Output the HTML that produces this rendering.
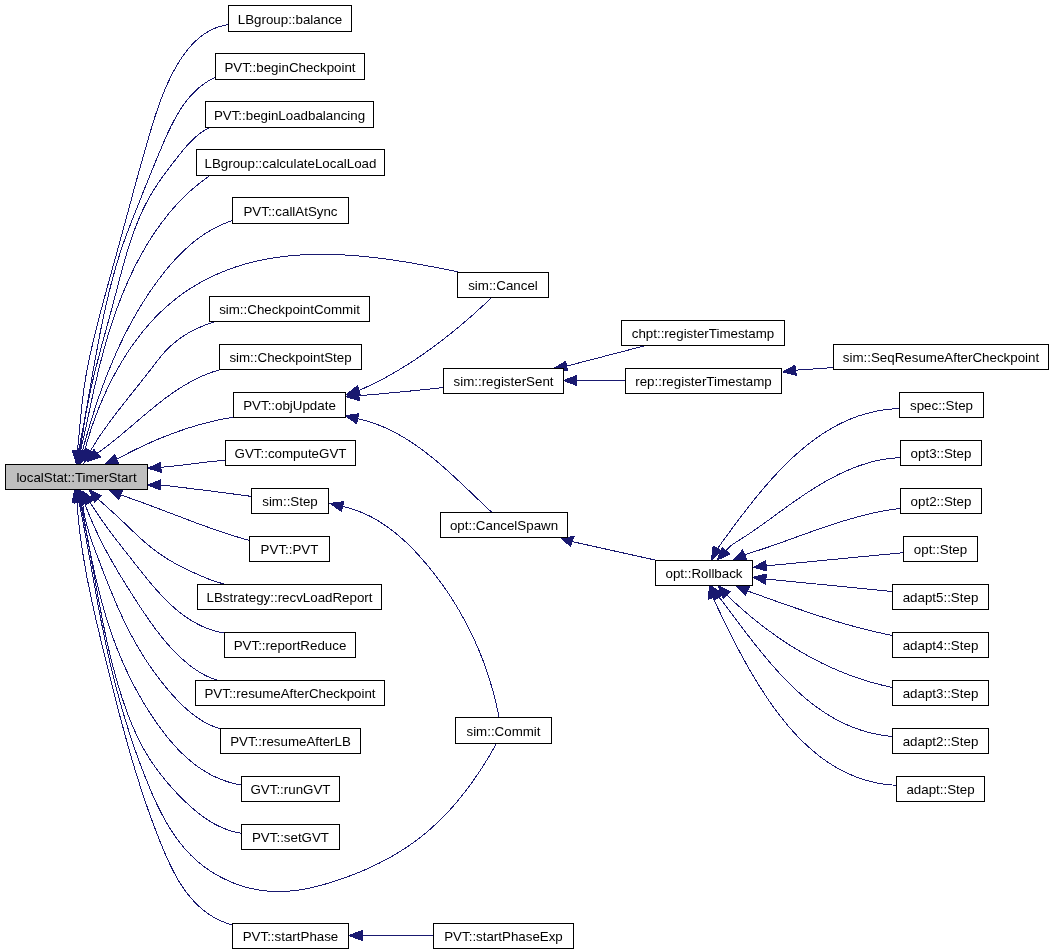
<!DOCTYPE html>
<html><head><meta charset="utf-8"><style>
html,body{margin:0;padding:0;background:#fff;}
svg{display:block;}
text{font-family:"Liberation Sans",sans-serif;font-size:13.333px;fill:#000;}
</style></head><body>
<svg width="1053" height="952" viewBox="0 0 1053 952">
<rect x="0" y="0" width="1053" height="952" fill="#fff"/>
<g fill="none" stroke="#191970" stroke-width="1" shape-rendering="crispEdges">
<path d="M228.5,24.5C226.9,24.9 222.1,25.7 219.1,26.7C216.1,27.6 213.3,28.8 210.6,30.2C207.9,31.6 205.4,33.2 202.9,34.9C200.5,36.7 198.2,38.6 196,40.7C193.8,42.7 191.7,44.9 189.7,47.2C187.7,49.5 185.8,51.9 184,54.4C182.2,56.9 180.5,59.4 178.9,62C177.3,64.6 175.8,67.3 174.3,70C172.8,72.6 171.4,75.3 170.1,78.1C168.8,80.8 167.5,83.5 166.3,86.3C165.1,89.1 163.9,91.9 162.8,94.7C161.7,97.5 160.6,100.4 159.6,103.2C158.6,106.1 157.6,109 156.6,111.8C155.6,114.7 154.7,117.6 153.8,120.5C152.9,123.4 152,126.3 151.1,129.2C150.2,132.1 149.4,135 148.5,137.9C147.7,140.9 146.8,143.8 146,146.7C145.1,149.6 144.3,152.5 143.5,155.4C142.6,158.4 141.8,161.3 141,164.2C140.2,167.1 139.4,170.1 138.5,173C137.7,175.9 136.9,178.8 136.1,181.8C135.3,184.7 134.5,187.6 133.7,190.5C132.9,193.5 132.2,196.4 131.4,199.3C130.6,202.3 129.8,205.2 129,208.1C128.2,211 127.4,214 126.6,216.9C125.8,219.8 125,222.8 124.2,225.7C123.4,228.6 122.6,231.5 121.8,234.5C121,237.4 120.2,240.3 119.4,243.2C118.6,246.2 117.8,249.1 117,252C116.2,254.9 115.4,257.9 114.6,260.8C113.7,263.7 112.9,266.7 112.1,269.6C111.3,272.5 110.5,275.4 109.7,278.4C108.9,281.3 108.1,284.2 107.3,287.1C106.5,290.1 105.7,293 104.9,295.9C104.1,298.9 103.3,301.8 102.5,304.7C101.7,307.7 101,310.6 100.2,313.5C99.4,316.5 98.7,319.4 97.9,322.3C97.2,325.3 96.4,328.2 95.7,331.2C95,334.1 94.2,337.1 93.5,340C92.8,343 92.1,345.9 91.5,348.9C90.8,351.8 90.1,354.8 89.5,357.7C88.9,360.7 88.2,363.7 87.7,366.6C87.1,369.6 86.5,372.6 86,375.6C85.5,378.6 85,381.6 84.6,384.6C84.1,387.6 83.7,390.6 83.3,393.6C82.9,396.6 82.6,399.6 82.2,402.6C81.9,405.7 81.6,408.7 81.2,411.7C80.9,414.7 80.6,417.8 80.3,420.8C80.1,423.8 79.8,426.8 79.5,429.9C79.2,432.9 78.9,435.9 78.6,438.9C78.3,442 77.9,446 77.6,448C77.4,450 77.4,450.5 77.3,451"/>
<path d="M215.5,77C214.1,77.8 209.9,79.9 207.3,81.6C204.7,83.2 202.3,85 199.9,86.9C197.6,88.8 195.4,90.9 193.4,93C191.3,95.1 189.3,97.3 187.5,99.6C185.6,101.9 183.9,104.3 182.2,106.8C180.5,109.2 178.9,111.8 177.4,114.4C175.9,116.9 174.5,119.6 173.1,122.3C171.7,125 170.3,127.7 169,130.5C167.7,133.2 166.5,136 165.2,138.8C164,141.6 162.8,144.5 161.6,147.3C160.4,150.1 159.2,153 158,155.8C156.8,158.6 155.6,161.4 154.5,164.3C153.3,167.1 152.2,169.9 151,172.8C149.8,175.6 148.7,178.4 147.6,181.3C146.4,184.1 145.3,186.9 144.1,189.7C143,192.6 141.9,195.4 140.8,198.2C139.6,201.1 138.5,203.9 137.4,206.7C136.3,209.5 135.1,212.4 134,215.2C132.9,218 131.8,220.9 130.7,223.7C129.6,226.5 128.5,229.3 127.4,232.2C126.4,235 125.3,237.9 124.3,240.7C123.3,243.6 122.3,246.4 121.3,249.3C120.4,252.2 119.5,255.1 118.6,257.9C117.7,260.8 116.8,263.7 115.9,266.6C115.1,269.5 114.3,272.5 113.5,275.4C112.7,278.3 111.9,281.2 111.1,284.1C110.4,287.1 109.6,290 108.9,292.9C108.2,295.9 107.5,298.8 106.8,301.8C106.1,304.7 105.4,307.7 104.8,310.7C104.1,313.6 103.5,316.6 102.9,319.6C102.2,322.5 101.6,325.5 101,328.5C100.4,331.5 99.8,334.4 99.3,337.4C98.7,340.4 98.1,343.4 97.6,346.4C97,349.4 96.5,352.4 95.9,355.4C95.4,358.3 94.8,361.3 94.3,364.3C93.8,367.3 93.2,370.3 92.7,373.3C92.2,376.3 91.7,379.3 91.1,382.3C90.6,385.3 90.1,388.3 89.6,391.3C89,394.3 88.5,397.3 88,400.3C87.5,403.3 86.9,406.3 86.4,409.3C85.9,412.3 85.3,415.3 84.8,418.2C84.3,421.2 83.7,424.2 83.2,427.2C82.6,430.2 82,433.2 81.5,436.1C80.9,439.1 80.2,442.6 79.7,445.1C79.2,447.5 78.7,450 78.5,451"/>
<path d="M210,127.5C208.7,128.2 204.5,130.3 202,132C199.5,133.7 197.2,135.5 195,137.5C192.7,139.5 190.7,141.6 188.6,143.8C186.6,146 184.6,148.3 182.7,150.6C180.8,152.9 178.9,155.4 177,157.8C175.1,160.2 173.3,162.6 171.4,165.1C169.5,167.5 167.6,170 165.8,172.4C164,174.9 162.1,177.4 160.4,179.9C158.6,182.4 156.9,184.9 155.3,187.5C153.6,190.1 152,192.7 150.5,195.3C149,197.9 147.6,200.6 146.2,203.2C144.8,205.9 143.5,208.6 142.2,211.3C140.9,214.1 139.7,216.8 138.6,219.6C137.4,222.4 136.3,225.2 135.2,228C134.2,230.8 133.1,233.6 132.2,236.4C131.2,239.3 130.2,242.2 129.3,245C128.4,247.9 127.5,250.8 126.6,253.7C125.8,256.6 124.9,259.5 124.1,262.4C123.3,265.3 122.5,268.2 121.7,271.2C120.9,274.1 120.1,277 119.3,280C118.6,282.9 117.8,285.8 117,288.8C116.3,291.7 115.5,294.7 114.7,297.6C113.9,300.5 113.2,303.5 112.4,306.4C111.6,309.3 110.8,312.3 110,315.2C109.2,318.1 108.4,321.1 107.6,324C106.8,326.9 106,329.8 105.2,332.8C104.4,335.7 103.6,338.6 102.8,341.5C102,344.5 101.2,347.4 100.4,350.3C99.7,353.2 98.9,356.2 98.1,359.1C97.4,362 96.6,364.9 95.9,367.9C95.1,370.8 94.4,373.7 93.7,376.7C93,379.6 92.3,382.6 91.6,385.5C91,388.5 90.3,391.4 89.7,394.4C89.1,397.3 88.5,400.3 87.9,403.3C87.3,406.2 86.7,409.2 86.2,412.2C85.7,415.2 85.2,418.1 84.7,421.1C84.2,424.1 83.8,427.1 83.3,430.1C82.8,433.1 82.4,436.1 81.9,439.1C81.3,442.1 80.6,446.1 80.2,448C79.8,450 79.6,450.5 79.5,451"/>
<path d="M210,175.5C208.8,176.4 205,179 202.6,180.8C200.2,182.7 197.8,184.6 195.5,186.5C193.1,188.5 190.9,190.5 188.6,192.5C186.4,194.6 184.3,196.7 182.1,198.8C180,201 177.9,203.2 175.9,205.4C173.9,207.6 171.9,209.9 169.9,212.2C168,214.5 166.1,216.9 164.3,219.3C162.4,221.7 160.6,224.1 158.9,226.6C157.1,229 155.4,231.5 153.7,234C152,236.5 150.4,239.1 148.8,241.7C147.2,244.3 145.6,246.9 144.1,249.5C142.6,252.1 141.1,254.8 139.7,257.4C138.2,260.1 136.8,262.8 135.4,265.5C134.1,268.2 132.8,270.9 131.5,273.7C130.2,276.4 128.9,279.2 127.7,281.9C126.4,284.7 125.2,287.5 124.1,290.3C122.9,293.1 121.8,295.9 120.7,298.7C119.6,301.5 118.5,304.4 117.4,307.2C116.4,310 115.4,312.9 114.4,315.8C113.4,318.6 112.4,321.5 111.5,324.4C110.5,327.3 109.6,330.2 108.7,333.1C107.8,336 107,338.9 106.1,341.8C105.3,344.7 104.4,347.7 103.6,350.6C102.8,353.5 102,356.5 101.3,359.4C100.5,362.3 99.8,365.3 99,368.2C98.3,371.2 97.6,374.1 96.9,377.1C96.2,380.1 95.5,383 94.8,386C94.1,388.9 93.5,391.9 92.8,394.9C92.2,397.8 91.5,400.8 90.9,403.8C90.3,406.7 89.6,409.7 89,412.6C88.4,415.6 87.7,418.6 87.1,421.5C86.5,424.5 85.8,427.4 85.2,430.4C84.5,433.3 83.9,436.3 83.2,439.2C82.5,442.2 81.6,446.1 81.2,448.1C80.7,450 80.6,450.5 80.5,451"/>
<path d="M232.5,220.5C231.1,221 226.7,222.5 223.9,223.7C221.1,224.9 218.3,226.2 215.7,227.5C213,228.9 210.4,230.4 207.8,232C205.3,233.5 202.8,235.2 200.4,236.9C197.9,238.7 195.5,240.5 193.2,242.4C190.9,244.3 188.6,246.2 186.4,248.3C184.2,250.3 182,252.4 179.9,254.5C177.8,256.7 175.7,258.9 173.7,261.1C171.7,263.3 169.7,265.6 167.7,268C165.8,270.3 163.9,272.7 162,275.1C160.2,277.5 158.3,279.9 156.5,282.4C154.7,284.8 153,287.3 151.3,289.8C149.5,292.3 147.9,294.8 146.2,297.4C144.5,299.9 142.9,302.5 141.3,305.1C139.7,307.7 138.2,310.3 136.6,312.9C135.1,315.5 133.6,318.2 132.1,320.9C130.7,323.5 129.2,326.2 127.8,328.9C126.4,331.6 125,334.3 123.7,337C122.3,339.8 121,342.5 119.7,345.3C118.4,348 117.1,350.8 115.9,353.6C114.7,356.4 113.4,359.2 112.3,362C111.1,364.8 109.9,367.6 108.8,370.5C107.6,373.3 106.5,376.1 105.4,379C104.3,381.8 103.3,384.7 102.2,387.5C101.2,390.4 100.1,393.3 99.1,396.1C98.1,399 97.2,401.9 96.2,404.8C95.2,407.6 94.3,410.5 93.4,413.4C92.5,416.3 91.6,419.2 90.7,422.1C89.8,425 89,427.9 88.1,430.8C87.3,433.7 86.4,436.6 85.6,439.4C84.8,442.3 83.8,446.2 83.3,448.1C82.7,450 82.6,450.5 82.5,451"/>
<path d="M457.9,271.8C456.4,271.5 452,270.6 449.1,270C446.1,269.4 443.2,268.9 440.2,268.3C437.2,267.7 434.3,267.1 431.3,266.6C428.3,266 425.4,265.5 422.4,264.9C419.4,264.4 416.4,263.9 413.4,263.3C410.4,262.8 407.5,262.3 404.5,261.8C401.5,261.3 398.5,260.9 395.5,260.4C392.5,260 389.5,259.5 386.5,259.1C383.4,258.7 380.4,258.3 377.4,257.9C374.4,257.6 371.4,257.2 368.4,256.9C365.3,256.6 362.3,256.3 359.3,256C356.2,255.8 353.2,255.5 350.2,255.3C347.1,255.1 344.1,254.9 341,254.8C338,254.6 335,254.5 331.9,254.4C328.9,254.4 325.8,254.3 322.7,254.3C319.7,254.3 316.6,254.4 313.6,254.4C310.5,254.5 307.5,254.6 304.4,254.8C301.3,254.9 298.3,255.1 295.2,255.4C292.2,255.6 289.1,255.9 286.1,256.2C283.1,256.6 280.1,257 277,257.4C274,257.8 271,258.3 268,258.9C265,259.4 262.1,260 259.1,260.6C256.1,261.3 253.2,262 250.2,262.7C247.3,263.5 244.4,264.3 241.5,265.1C238.6,266 235.8,266.9 232.9,267.9C230.1,268.9 227.2,270 224.4,271.1C221.6,272.2 218.9,273.4 216.1,274.6C213.4,275.8 210.7,277.1 208,278.5C205.3,279.8 202.6,281.2 200,282.7C197.4,284.2 194.8,285.7 192.3,287.3C189.7,288.9 187.2,290.5 184.8,292.2C182.3,293.9 179.9,295.7 177.5,297.5C175.1,299.4 172.8,301.2 170.5,303.2C168.2,305.1 165.9,307.1 163.7,309.2C161.5,311.2 159.3,313.3 157.2,315.4C155.1,317.6 153,319.8 151,322C148.9,324.3 147,326.6 145,328.9C143.1,331.2 141.1,333.6 139.3,336C137.4,338.4 135.6,340.9 133.8,343.4C132,345.8 130.3,348.4 128.6,350.9C126.9,353.5 125.2,356.1 123.6,358.7C122,361.3 120.4,363.9 118.9,366.6C117.3,369.3 115.9,372 114.4,374.7C112.9,377.4 111.5,380.1 110.1,382.9C108.8,385.7 107.4,388.4 106.1,391.2C104.8,394 103.6,396.8 102.4,399.7C101.1,402.5 100,405.3 98.8,408.1C97.7,411 96.6,413.8 95.5,416.7C94.4,419.5 93.4,422.4 92.4,425.3C91.4,428.1 90.5,431 89.6,433.9C88.6,436.7 87.8,439.6 86.9,442.4C86.1,445.3 84.9,449.6 84.5,451"/>
<path d="M216,321.5C214.5,322 210,323.3 207,324.4C204.1,325.4 201.2,326.6 198.4,327.9C195.5,329.1 192.8,330.5 190.1,332C187.4,333.5 184.8,335.1 182.3,336.8C179.8,338.5 177.3,340.4 175,342.3C172.6,344.2 170.4,346.2 168.2,348.4C166.1,350.5 164,352.7 162.1,355C160.1,357.3 158.2,359.7 156.3,362.2C154.4,364.6 152.5,367 150.7,369.5C148.8,371.9 146.9,374.3 145,376.8C143.1,379.2 141.2,381.6 139.3,384C137.4,386.4 135.5,388.8 133.6,391.2C131.7,393.6 129.7,396 127.8,398.5C125.9,400.9 124,403.3 122.1,405.7C120.2,408.1 118.3,410.5 116.5,413C114.6,415.4 112.7,417.8 110.9,420.3C109.1,422.8 107.3,425.3 105.5,427.8C103.7,430.3 102,432.8 100.2,435.3C98.5,437.9 96.8,440.5 95.2,443.1C93.6,445.7 91.2,449.7 90.4,451"/>
<path d="M220.5,369.5C219,370 214.5,371.3 211.6,372.3C208.6,373.4 205.8,374.5 203,375.7C200.1,376.9 197.4,378.3 194.7,379.6C191.9,381 189.3,382.5 186.7,384C184,385.6 181.4,387.2 178.9,388.8C176.3,390.5 173.8,392.2 171.3,393.9C168.8,395.7 166.4,397.5 163.9,399.3C161.5,401.2 159.1,403.1 156.7,405C154.3,406.9 151.9,408.9 149.5,410.8C147.2,412.8 144.8,414.8 142.5,416.7C140.1,418.7 137.8,420.7 135.4,422.7C133.1,424.7 130.7,426.7 128.4,428.7C126.1,430.7 123.7,432.7 121.3,434.7C119,436.6 116.6,438.6 114.2,440.5C111.8,442.4 109.4,444.3 107,446.1C104.6,448 101.3,450.4 99.7,451.6C98,452.7 97.6,453 97.2,453.3"/>
<path d="M233,417.2C231.5,417.5 226.9,418.3 223.8,418.9C220.8,419.5 217.7,420.1 214.7,420.8C211.7,421.5 208.6,422.2 205.6,423C202.6,423.8 199.6,424.6 196.7,425.5C193.7,426.4 190.7,427.3 187.8,428.2C184.8,429.2 181.9,430.2 178.9,431.2C176,432.2 173.1,433.3 170.2,434.4C167.3,435.5 164.4,436.6 161.5,437.8C158.6,439 155.8,440.2 152.9,441.4C150.1,442.7 147.3,444 144.4,445.3C141.6,446.6 138.8,447.9 136,449.3C133.3,450.6 130.5,452 127.7,453.5C125,454.9 121.3,456.8 119.5,457.8C117.7,458.8 117.3,459.1 116.8,459.3"/>
<path d="M225.5,460.2C223.9,460.3 219,460.8 215.8,461.1C212.6,461.4 209.3,461.8 206.1,462.1C202.9,462.5 199.6,462.9 196.4,463.3C193.2,463.7 190,464.1 186.7,464.5C183.5,464.9 180.3,465.3 177.1,465.7C173.8,466 170.1,466.4 167.4,466.7C164.7,467 162,467.2 160.9,467.3"/>
<path d="M251.5,496.4C249.9,496.2 245.2,495.6 242.1,495.1C239,494.7 235.8,494.3 232.7,493.9C229.6,493.5 226.4,493.1 223.3,492.7C220.2,492.3 217,491.8 213.9,491.4C210.8,491 207.6,490.6 204.5,490.2C201.4,489.8 198.2,489.5 195.1,489.1C192,488.7 188.8,488.3 185.7,487.9C182.6,487.5 179.4,487.2 176.3,486.8C173.2,486.4 169.5,486 166.9,485.7C164.3,485.4 161.6,485.1 160.6,485"/>
<path d="M249.5,540.5C248,540.1 243.5,538.8 240.5,537.9C237.5,537 234.6,536.1 231.6,535.2C228.7,534.3 225.7,533.3 222.8,532.3C219.8,531.3 216.9,530.3 213.9,529.3C211,528.3 208.1,527.2 205.2,526.2C202.2,525.1 199.3,524 196.4,523C193.5,521.9 190.6,520.8 187.7,519.7C184.8,518.6 181.9,517.5 179,516.4C176.1,515.3 173.2,514.2 170.3,513.1C167.4,512 164.5,510.9 161.6,509.8C158.7,508.7 155.8,507.6 152.9,506.5C150,505.4 147,504.3 144.1,503.2C141.2,502.2 138.3,501.1 135.4,500.1C132.5,499 129,497.8 126.6,497C124.1,496.1 121.7,495.3 120.7,495"/>
<path d="M225,584.2C223.5,583.8 219,582.7 216.1,581.7C213.2,580.8 210.3,579.7 207.5,578.6C204.6,577.4 201.8,576.2 199,575C196.2,573.8 193.4,572.5 190.6,571.2C187.8,569.9 185,568.6 182.2,567.2C179.4,565.7 176.7,564.3 174,562.8C171.3,561.2 168.6,559.7 166,558C163.4,556.4 160.8,554.7 158.3,552.9C155.8,551.1 153.3,549.2 150.9,547.3C148.5,545.3 146.1,543.3 143.8,541.3C141.5,539.2 139.2,537.1 136.9,535C134.6,532.9 132.4,530.7 130.2,528.6C127.9,526.4 125.7,524.2 123.4,522.1C121.2,519.9 118.9,517.8 116.6,515.7C114.4,513.6 112,511.5 109.7,509.5C107.4,507.4 104.7,505 102.8,503.3C100.8,501.6 99,499.8 98.2,499.1"/>
<path d="M224.2,633C222.7,632.7 218,631.8 215,631C212,630.2 209.1,629.2 206.3,628.1C203.4,626.9 200.7,625.7 198,624.3C195.3,622.9 192.7,621.4 190.1,619.8C187.5,618.1 185,616.4 182.6,614.6C180.1,612.7 177.8,610.8 175.4,608.8C173.1,606.8 170.8,604.7 168.5,602.5C166.3,600.4 164.1,598.1 161.9,595.9C159.8,593.6 157.7,591.2 155.6,588.9C153.5,586.5 151.4,584.1 149.4,581.6C147.3,579.2 145.3,576.7 143.4,574.3C141.4,571.8 139.4,569.3 137.5,566.8C135.5,564.4 133.6,561.9 131.7,559.4C129.7,557 127.8,554.5 125.9,552.1C124,549.7 122.1,547.3 120.2,544.8C118.4,542.4 116.5,540 114.6,537.6C112.8,535.1 111,532.7 109.1,530.3C107.3,527.8 105.5,525.3 103.7,522.8C102,520.3 100.2,517.8 98.5,515.3C96.7,512.7 94.8,509.6 93.3,507.4C91.9,505.3 90.6,503 90,502.1"/>
<path d="M216.5,680C215.1,679.4 210.6,677.9 207.8,676.6C205,675.3 202.4,673.9 199.8,672.3C197.1,670.7 194.6,669 192.2,667.2C189.7,665.4 187.4,663.5 185.1,661.5C182.7,659.5 180.5,657.4 178.3,655.3C176.1,653.2 174,651 171.9,648.8C169.8,646.5 167.7,644.2 165.7,641.9C163.7,639.5 161.8,637.1 159.9,634.7C157.9,632.2 156.1,629.8 154.2,627.3C152.4,624.8 150.6,622.2 148.8,619.7C147,617.1 145.2,614.5 143.5,611.9C141.7,609.4 140,606.7 138.3,604.1C136.6,601.5 134.9,598.9 133.3,596.3C131.6,593.7 129.9,591.1 128.3,588.5C126.6,585.9 125,583.3 123.4,580.6C121.8,578 120.2,575.4 118.6,572.8C117,570.1 115.5,567.5 114,564.8C112.4,562.2 110.9,559.5 109.5,556.8C108,554.2 106.5,551.5 105.1,548.8C103.7,546.1 102.3,543.4 100.9,540.6C99.5,537.9 98.2,535.1 96.9,532.3C95.6,529.6 94.3,526.8 93,523.9C91.8,521.1 90.6,518.3 89.4,515.4C88.2,512.5 86.7,508.7 86,506.7C85.2,504.8 85.1,504.3 84.9,503.8"/>
<path d="M220,728.7C218.6,728.2 214.1,726.7 211.3,725.5C208.5,724.3 205.8,722.9 203.2,721.4C200.6,719.9 198.1,718.2 195.6,716.4C193.2,714.7 190.8,712.8 188.5,710.8C186.2,708.8 184,706.8 181.8,704.6C179.6,702.5 177.4,700.3 175.4,698.1C173.3,695.8 171.2,693.5 169.2,691.2C167.2,688.9 165.3,686.5 163.4,684.1C161.5,681.8 159.6,679.4 157.7,676.9C155.9,674.5 154.1,672 152.3,669.5C150.6,667 148.9,664.5 147.2,662C145.5,659.5 143.9,656.9 142.3,654.3C140.6,651.7 139.1,649.1 137.6,646.5C136,643.9 134.5,641.2 133.1,638.5C131.6,635.9 130.2,633.2 128.8,630.5C127.4,627.8 126.1,625 124.8,622.3C123.4,619.6 122.1,616.8 120.9,614.1C119.6,611.3 118.4,608.5 117.1,605.7C115.9,602.9 114.7,600.1 113.6,597.3C112.4,594.5 111.2,591.7 110.1,588.9C108.9,586 107.8,583.2 106.7,580.4C105.6,577.5 104.4,574.7 103.3,571.9C102.2,569 101.1,566.2 100.1,563.3C99,560.5 97.9,557.6 96.8,554.8C95.7,552 94.6,549.1 93.6,546.3C92.6,543.4 91.6,540.5 90.6,537.7C89.6,534.8 88.7,531.9 87.9,529C87,526.1 86.2,523.1 85.6,520.2C84.9,517.2 84.2,514.2 83.7,511.2C83.2,508.2 82.7,503.5 82.5,502"/>
<path d="M241,785C239.5,784.7 234.8,783.8 231.8,783C228.8,782.2 225.9,781.2 223.1,780.2C220.2,779.1 217.4,778 214.7,776.7C212,775.4 209.4,774 206.8,772.5C204.3,771 201.8,769.4 199.3,767.7C196.9,766 194.5,764.2 192.2,762.4C189.9,760.5 187.6,758.6 185.4,756.5C183.2,754.5 181,752.4 178.9,750.3C176.8,748.1 174.8,745.9 172.8,743.6C170.8,741.3 168.8,739 166.9,736.6C165,734.2 163.1,731.8 161.3,729.3C159.4,726.9 157.7,724.4 155.9,721.9C154.2,719.3 152.4,716.8 150.8,714.2C149.1,711.6 147.4,709 145.8,706.4C144.2,703.8 142.7,701.2 141.1,698.5C139.6,695.9 138.1,693.2 136.6,690.5C135.2,687.8 133.7,685.1 132.3,682.4C130.9,679.6 129.6,676.9 128.2,674.1C126.9,671.4 125.6,668.6 124.4,665.8C123.1,663 121.9,660.2 120.7,657.4C119.5,654.6 118.4,651.8 117.2,648.9C116.1,646.1 115,643.3 114,640.4C112.9,637.6 111.9,634.7 110.9,631.8C109.9,629 109,626.1 108.1,623.2C107.1,620.3 106.2,617.4 105.4,614.5C104.5,611.6 103.7,608.7 102.9,605.8C102,602.9 101.3,600 100.5,597.1C99.7,594.2 99,591.2 98.3,588.3C97.5,585.4 96.8,582.4 96.1,579.5C95.5,576.5 94.8,573.6 94.1,570.6C93.5,567.7 92.9,564.7 92.2,561.7C91.6,558.8 91,555.8 90.4,552.8C89.8,549.9 89.2,546.9 88.7,543.9C88.1,540.9 87.5,537.9 87,534.9C86.4,532 85.9,529 85.3,526C84.8,523 84.2,520 83.7,517C83.1,514 82.5,510.5 82.1,508C81.6,505.5 81.2,503 81,502"/>
<path d="M241.5,833.3C240,833 235.4,832.2 232.5,831.4C229.5,830.5 226.7,829.5 223.9,828.4C221.1,827.3 218.4,826 215.8,824.7C213.1,823.3 210.6,821.7 208,820.1C205.5,818.5 203.1,816.7 200.6,814.9C198.2,813.1 195.9,811.2 193.6,809.2C191.2,807.2 189,805.2 186.8,803.1C184.5,800.9 182.4,798.8 180.2,796.6C178,794.4 175.9,792.1 173.8,789.9C171.8,787.6 169.7,785.3 167.7,783C165.7,780.6 163.8,778.3 161.9,775.9C160,773.5 158.1,771.1 156.3,768.6C154.5,766.1 152.8,763.6 151.1,761.1C149.4,758.6 147.8,756 146.3,753.4C144.7,750.8 143.2,748.1 141.8,745.5C140.4,742.8 139,740.1 137.7,737.4C136.4,734.7 135.1,731.9 133.9,729.1C132.7,726.4 131.5,723.6 130.4,720.8C129.3,718 128.2,715.1 127.1,712.3C126.1,709.4 125.1,706.6 124.1,703.7C123.1,700.9 122.1,698 121.2,695.1C120.3,692.2 119.4,689.3 118.5,686.4C117.7,683.5 116.8,680.6 116,677.7C115.2,674.8 114.4,671.8 113.6,668.9C112.8,666 112.1,663 111.3,660.1C110.6,657.1 109.9,654.2 109.2,651.2C108.5,648.3 107.8,645.3 107.2,642.4C106.5,639.4 105.9,636.4 105.2,633.4C104.6,630.5 104,627.5 103.4,624.5C102.8,621.5 102.2,618.5 101.6,615.5C101,612.5 100.4,609.5 99.9,606.6C99.3,603.6 98.7,600.6 98.2,597.6C97.6,594.6 97.1,591.6 96.6,588.6C96,585.6 95.5,582.6 94.9,579.6C94.4,576.6 93.9,573.6 93.3,570.6C92.8,567.6 92.2,564.6 91.7,561.6C91.2,558.6 90.6,555.6 90.1,552.6C89.5,549.6 89,546.6 88.4,543.6C87.9,540.6 87.3,537.6 86.7,534.6C86.2,531.7 85.6,528.7 85,525.7C84.4,522.7 83.8,519.8 83.2,516.8C82.6,513.8 81.8,510.4 81.3,507.9C80.8,505.4 80.2,503 80,502"/>
<path d="M496.4,743.6C495.7,744.9 493.5,748.8 492,751.4C490.5,754 488.9,756.6 487.3,759.2C485.8,761.8 484.2,764.3 482.5,766.9C480.9,769.4 479.2,772 477.5,774.5C475.8,777 474.1,779.5 472.3,782C470.5,784.5 468.7,786.9 466.9,789.3C465,791.8 463.1,794.2 461.2,796.6C459.3,798.9 457.4,801.3 455.4,803.6C453.4,805.9 451.4,808.2 449.4,810.4C447.3,812.6 445.2,814.8 443.1,817C441,819.2 438.8,821.3 436.6,823.3C434.4,825.4 432.2,827.5 429.9,829.4C427.7,831.4 425.4,833.3 423,835.2C420.7,837.1 418.3,838.9 415.9,840.7C413.5,842.5 411.1,844.2 408.6,845.9C406.1,847.6 403.6,849.3 401.1,850.8C398.5,852.4 395.9,854 393.3,855.5C390.7,857 388.1,858.5 385.5,859.9C382.8,861.3 380.1,862.7 377.4,864C374.7,865.3 372,866.6 369.2,867.9C366.5,869.1 363.7,870.4 360.9,871.5C358.1,872.7 355.3,873.8 352.4,874.9C349.6,876 346.7,877.1 343.8,878.1C340.9,879.2 338,880.2 335.1,881.1C332.2,882.1 329.3,883 326.3,883.8C323.4,884.7 320.4,885.5 317.5,886.2C314.5,887 311.5,887.7 308.5,888.3C305.5,888.9 302.5,889.4 299.5,889.9C296.5,890.3 293.5,890.7 290.5,891C287.5,891.2 284.5,891.4 281.5,891.5C278.5,891.6 275.5,891.6 272.5,891.4C269.5,891.3 266.5,891 263.5,890.7C260.5,890.3 257.5,889.8 254.6,889.2C251.6,888.6 248.6,887.9 245.7,887.1C242.8,886.3 239.9,885.4 237,884.3C234.2,883.3 231.3,882.2 228.6,880.9C225.8,879.7 223,878.4 220.4,876.9C217.7,875.5 215,874 212.5,872.4C209.9,870.8 207.4,869.1 205,867.3C202.5,865.5 200.2,863.6 197.9,861.7C195.6,859.7 193.4,857.7 191.3,855.6C189.2,853.5 187.1,851.3 185.1,849.1C183.2,846.8 181.3,844.5 179.5,842.1C177.6,839.8 175.9,837.3 174.2,834.8C172.5,832.4 170.8,829.8 169.2,827.2C167.7,824.6 166.1,822 164.7,819.4C163.2,816.7 161.8,814 160.4,811.3C159,808.5 157.6,805.8 156.3,803C155,800.2 153.8,797.4 152.5,794.6C151.3,791.8 150.1,788.9 148.9,786.1C147.7,783.2 146.6,780.4 145.5,777.6C144.3,774.7 143.2,771.9 142.1,769C141,766.1 140,763.3 138.9,760.4C137.9,757.6 136.8,754.7 135.8,751.9C134.8,749 133.8,746.1 132.8,743.3C131.9,740.4 130.9,737.5 130,734.7C129,731.8 128.1,728.9 127.2,726C126.3,723.2 125.4,720.3 124.6,717.4C123.7,714.5 122.8,711.6 122,708.8C121.2,705.9 120.4,703 119.6,700.1C118.8,697.2 118,694.3 117.2,691.4C116.4,688.5 115.7,685.6 114.9,682.7C114.2,679.8 113.4,676.8 112.7,673.9C112,671 111.3,668.1 110.6,665.2C109.9,662.2 109.2,659.3 108.6,656.4C107.9,653.5 107.3,650.5 106.6,647.6C106,644.6 105.4,641.7 104.7,638.7C104.1,635.8 103.5,632.8 102.9,629.9C102.3,626.9 101.7,624 101.1,621C100.6,618 100,615.1 99.4,612.1C98.9,609.1 98.3,606.1 97.7,603.2C97.2,600.2 96.6,597.2 96.1,594.2C95.6,591.3 95,588.3 94.5,585.3C93.9,582.3 93.4,579.3 92.9,576.3C92.3,573.4 91.8,570.4 91.3,567.4C90.7,564.4 90.2,561.4 89.7,558.4C89.1,555.5 88.6,552.5 88.1,549.5C87.5,546.5 87,543.5 86.4,540.6C85.9,537.6 85.4,534.6 84.8,531.6C84.2,528.7 83.7,525.7 83.1,522.7C82.5,519.8 82,516.8 81.4,513.8C80.8,510.9 80,506.9 79.6,505C79.2,503 79.1,502.5 79,502"/>
<path d="M232.7,925.2C231.2,924.7 226.5,923.2 223.6,922C220.6,920.8 217.9,919.5 215.2,918.1C212.5,916.6 210,915 207.6,913.3C205.2,911.6 202.9,909.8 200.7,907.9C198.5,906 196.4,903.9 194.4,901.8C192.4,899.7 190.5,897.5 188.6,895.2C186.8,893 185.1,890.6 183.4,888.2C181.7,885.7 180.1,883.2 178.6,880.7C177.1,878.1 175.6,875.5 174.2,872.8C172.8,870.2 171.4,867.5 170.1,864.7C168.8,862 167.5,859.2 166.3,856.4C165.1,853.6 163.9,850.8 162.7,848C161.5,845.1 160.4,842.3 159.2,839.5C158.1,836.6 157,833.8 155.9,830.9C154.8,828.1 153.7,825.2 152.7,822.3C151.6,819.5 150.6,816.6 149.5,813.8C148.5,810.9 147.5,808 146.5,805.1C145.5,802.3 144.5,799.4 143.6,796.5C142.6,793.6 141.7,790.7 140.7,787.8C139.8,785 138.9,782.1 138,779.2C137,776.3 136.1,773.4 135.3,770.5C134.4,767.6 133.5,764.7 132.6,761.8C131.8,758.9 130.9,755.9 130.1,753C129.2,750.1 128.4,747.2 127.6,744.3C126.8,741.4 126,738.5 125.2,735.5C124.4,732.6 123.6,729.7 122.8,726.8C122,723.9 121.2,720.9 120.4,718C119.7,715.1 118.9,712.2 118.1,709.2C117.4,706.3 116.6,703.4 115.9,700.5C115.1,697.5 114.4,694.6 113.6,691.7C112.9,688.7 112.2,685.8 111.4,682.9C110.7,679.9 110,677 109.2,674.1C108.5,671.1 107.8,668.2 107,665.3C106.3,662.3 105.6,659.4 104.9,656.5C104.2,653.5 103.4,650.6 102.7,647.7C102,644.7 101.3,641.8 100.6,638.9C99.9,635.9 99.2,633 98.5,630.1C97.8,627.1 97.1,624.2 96.4,621.2C95.7,618.3 95,615.4 94.4,612.4C93.7,609.5 93.1,606.5 92.4,603.6C91.8,600.6 91.1,597.7 90.5,594.7C89.9,591.8 89.3,588.8 88.7,585.9C88.1,582.9 87.5,580 86.9,577C86.4,574 85.8,571.1 85.3,568.1C84.8,565.1 84.3,562.1 83.8,559.2C83.3,556.2 82.8,553.2 82.3,550.2C81.9,547.2 81.4,544.2 81,541.2C80.6,538.2 80.2,535.2 79.8,532.2C79.5,529.2 79.1,526.2 78.8,523.2C78.5,520.2 78.2,517.2 77.9,514.1C77.7,511.1 77.4,507.1 77.2,505C77,503 77,502.5 77,502"/>
<path d="M433,935.5 L362,935.5"/>
<path d="M499,717C498.7,715.5 497.8,711 497.1,708C496.5,705 495.8,702 495,699C494.3,696.1 493.5,693.1 492.7,690.2C491.9,687.2 491,684.3 490.1,681.4C489.2,678.5 488.3,675.5 487.3,672.7C486.4,669.8 485.4,666.9 484.3,664C483.3,661.2 482.2,658.3 481,655.5C479.9,652.7 478.8,649.9 477.5,647.1C476.3,644.3 475.1,641.5 473.8,638.7C472.6,636 471.2,633.2 469.9,630.5C468.5,627.8 467.1,625.1 465.7,622.4C464.3,619.7 462.8,617 461.3,614.4C459.8,611.7 458.3,609.1 456.7,606.5C455.2,603.9 453.5,601.3 451.9,598.7C450.3,596.1 448.6,593.6 446.9,591.1C445.1,588.5 443.4,586 441.6,583.6C439.8,581.1 438,578.6 436.1,576.2C434.3,573.7 432.4,571.3 430.4,569C428.5,566.6 426.5,564.2 424.5,561.9C422.5,559.5 420.5,557.2 418.4,555C416.4,552.7 414.2,550.4 412.1,548.2C409.9,546.1 407.8,543.9 405.5,541.8C403.3,539.7 401,537.7 398.7,535.7C396.4,533.7 394,531.8 391.6,530C389.2,528.1 386.7,526.3 384.2,524.7C381.7,523 379.2,521.4 376.6,519.8C374,518.3 371.3,516.9 368.6,515.6C365.9,514.2 363.1,513 360.3,511.9C357.5,510.8 354.6,509.7 351.7,508.8C348.7,507.9 344.2,506.9 342.7,506.5"/>
<path d="M491.8,297.5C490.7,298.6 487.3,301.7 485.1,303.8C482.8,305.9 480.5,308 478.2,310C476,312.1 473.7,314.1 471.4,316.2C469,318.2 466.7,320.2 464.4,322.2C462,324.2 459.7,326.2 457.3,328.2C454.9,330.1 452.5,332.1 450.1,334C447.7,335.9 445.3,337.8 442.9,339.7C440.5,341.6 438,343.5 435.5,345.3C433.1,347.1 430.6,349 428.1,350.7C425.6,352.5 423.1,354.3 420.5,356C418,357.8 415.5,359.5 412.9,361.2C410.3,362.8 407.7,364.5 405.1,366.1C402.5,367.7 399.9,369.3 397.2,370.9C394.6,372.5 391.9,374 389.3,375.5C386.6,377 383.9,378.4 381.1,379.9C378.4,381.3 375.7,382.7 372.9,384C370.1,385.4 366.9,386.9 364.5,388C362.2,389.1 359.8,390.1 358.9,390.5"/>
<path d="M443,387.5C441.4,387.7 436.8,388.2 433.7,388.6C430.6,388.9 427.4,389.2 424.3,389.6C421.2,389.9 418.1,390.2 415,390.5C411.9,390.9 408.8,391.2 405.7,391.5C402.5,391.8 399.4,392.1 396.3,392.4C393.2,392.7 390.1,393 387,393.2C383.8,393.5 380.7,393.8 377.6,394.1C374.5,394.3 371.4,394.6 368.3,394.9C365.1,395.1 360.5,395.5 358.9,395.6"/>
<path d="M491.4,512C490.3,511 487,507.9 484.8,505.8C482.6,503.8 480.4,501.7 478.2,499.5C476,497.4 473.8,495.3 471.6,493.2C469.4,491.1 467.2,488.9 464.9,486.8C462.7,484.7 460.5,482.6 458.2,480.5C456,478.4 453.7,476.3 451.4,474.2C449.1,472.1 446.8,470 444.5,468C442.2,465.9 439.8,463.9 437.5,461.9C435.1,459.9 432.7,458 430.3,456.1C427.9,454.2 425.5,452.3 423,450.4C420.6,448.6 418.1,446.8 415.6,445.1C413.1,443.3 410.5,441.6 408,440C405.4,438.4 402.8,436.8 400.1,435.3C397.5,433.8 394.8,432.4 392.1,431C389.4,429.7 386.7,428.4 383.9,427.2C381.1,426 378.3,424.9 375.4,423.8C372.6,422.8 369.6,421.8 366.7,421C363.7,420.1 359.2,419.1 357.7,418.7"/>
<path d="M647.8,345 L566.6,366.1"/>
<path d="M625,380.5 L576.6,380.5"/>
<path d="M833,367.6 L795.6,370.2"/>
<path d="M655,560 L572.2,541.6"/>
<path d="M899.1,408.6C897.5,408.7 892.7,408.9 889.6,409.2C886.5,409.5 883.4,409.9 880.4,410.4C877.3,410.9 874.3,411.6 871.4,412.3C868.4,413 865.5,413.8 862.6,414.7C859.8,415.5 856.9,416.5 854.1,417.6C851.3,418.6 848.6,419.8 845.9,421C843.1,422.2 840.4,423.5 837.8,424.9C835.1,426.3 832.5,427.7 830,429.3C827.4,430.8 824.8,432.4 822.3,434C819.8,435.7 817.3,437.4 814.9,439.2C812.5,440.9 810,442.8 807.7,444.7C805.3,446.6 802.9,448.5 800.6,450.5C798.3,452.5 796,454.5 793.7,456.6C791.5,458.7 789.2,460.8 787,463C784.8,465.1 782.7,467.3 780.5,469.6C778.4,471.8 776.2,474.1 774.1,476.4C772,478.6 770,481 767.9,483.3C765.9,485.7 763.8,488 761.8,490.4C759.8,492.8 757.8,495.2 755.9,497.6C753.9,500 752,502.5 750.1,504.9C748.1,507.3 746.3,509.8 744.4,512.2C742.5,514.7 740.6,517.1 738.8,519.6C737,522 735.1,524.5 733.3,526.9C731.5,529.3 729.7,531.8 728,534.2C726.2,536.6 724.4,539 722.7,541.4C720.9,543.8 718.4,547.3 717.5,548.5"/>
<path d="M900.2,457.7C898.6,457.8 894,458 890.9,458.4C887.8,458.7 884.8,459.2 881.7,459.7C878.7,460.2 875.7,460.9 872.8,461.6C869.8,462.4 866.9,463.2 864,464.2C861,465.1 858.2,466.1 855.3,467.2C852.4,468.3 849.6,469.5 846.8,470.7C844,471.9 841.2,473.2 838.4,474.6C835.6,476 832.9,477.4 830.2,478.9C827.4,480.4 824.7,481.9 822.1,483.5C819.4,485.1 816.7,486.7 814.1,488.3C811.4,490 808.8,491.7 806.2,493.4C803.6,495.1 801,496.9 798.4,498.7C795.9,500.4 793.3,502.2 790.8,504C788.2,505.8 785.7,507.6 783.2,509.4C780.7,511.2 778.2,513.1 775.7,514.9C773.2,516.7 770.8,518.5 768.3,520.3C765.8,522.1 763.4,523.9 760.9,525.6C758.4,527.4 755.9,529.1 753.4,530.9C750.9,532.6 748.3,534.3 745.7,536C743.2,537.7 740.5,539.3 737.9,541C735.3,542.7 732.2,544.6 730.2,546.2C728.3,547.8 726.7,550 726,550.7"/>
<path d="M900.2,508.4C898.7,508.6 894.1,509.2 891,509.7C888,510.1 884.9,510.7 881.9,511.2C878.9,511.8 875.9,512.4 872.9,513.1C869.9,513.8 866.9,514.5 864,515.2C861,516 858,516.8 855.1,517.6C852.1,518.4 849.2,519.2 846.3,520.1C843.3,521 840.4,521.9 837.5,522.8C834.6,523.8 831.6,524.7 828.7,525.7C825.8,526.7 822.9,527.7 820,528.7C817.1,529.7 814.2,530.7 811.3,531.7C808.4,532.7 805.6,533.8 802.7,534.8C799.8,535.8 796.9,536.9 794,537.9C791.1,539 788.2,540 785.3,541.1C782.4,542.1 779.5,543.1 776.7,544.1C773.8,545.2 770.9,546.2 768,547.2C765,548.2 762.1,549.1 759.2,550.1C756.3,551.1 752.9,552.1 750.5,552.9C748,553.7 745.6,554.4 744.6,554.7"/>
<path d="M903.2,552.7 L766.2,565.9"/>
<path d="M892.2,591.5 L765.9,579"/>
<path d="M892.2,635.4C890.7,635.1 886.1,634.2 883.1,633.5C880.1,632.9 877,632.2 874,631.5C871,630.8 868,630.1 865,629.3C862,628.5 859,627.8 856.1,627C853.1,626.2 850.1,625.3 847.1,624.5C844.1,623.6 841.2,622.8 838.2,621.9C835.3,621 832.3,620.1 829.4,619.2C826.4,618.3 823.5,617.3 820.5,616.4C817.6,615.4 814.6,614.5 811.7,613.5C808.8,612.5 805.8,611.5 802.9,610.5C800,609.5 797.1,608.5 794.1,607.5C791.2,606.5 788.3,605.5 785.4,604.5C782.5,603.4 779.5,602.4 776.6,601.4C773.7,600.3 770.8,599.3 767.9,598.3C765,597.2 762.1,596.2 759.1,595.1C756.2,594.1 752.4,592.7 750.4,592C748.5,591.3 748,591.2 747.5,591"/>
<path d="M892.2,687.4C890.7,687.1 886.1,686.1 883.1,685.4C880.1,684.7 877.1,683.9 874.1,683.1C871.1,682.3 868.1,681.4 865.2,680.5C862.2,679.5 859.3,678.6 856.4,677.6C853.4,676.6 850.5,675.5 847.7,674.4C844.8,673.3 841.9,672.1 839.1,670.9C836.2,669.7 833.4,668.5 830.6,667.2C827.7,665.9 825,664.6 822.2,663.3C819.4,661.9 816.6,660.5 813.9,659.1C811.2,657.6 808.5,656.1 805.8,654.6C803.1,653.1 800.4,651.5 797.7,650C795.1,648.4 792.4,646.7 789.8,645.1C787.2,643.4 784.6,641.7 782,640C779.5,638.3 776.9,636.5 774.4,634.7C771.9,632.9 769.4,631.1 766.9,629.2C764.4,627.4 761.9,625.5 759.5,623.6C757,621.7 754.6,619.7 752.2,617.8C749.8,615.8 747.5,613.8 745.1,611.8C742.8,609.8 740.5,607.7 738.2,605.6C735.9,603.6 733.2,601.1 731.4,599.4C729.5,597.6 727.6,595.8 726.9,595.1"/>
<path d="M892.2,736.5C890.6,736.3 885.7,735.8 882.6,735.3C879.4,734.8 876.3,734.2 873.3,733.5C870.2,732.9 867.2,732.1 864.3,731.2C861.3,730.3 858.4,729.3 855.6,728.3C852.7,727.2 849.9,726.1 847.2,724.9C844.4,723.6 841.7,722.3 839,721C836.3,719.6 833.7,718.1 831.1,716.6C828.6,715.1 826,713.5 823.5,711.8C821,710.2 818.5,708.4 816.1,706.7C813.7,704.9 811.3,703 808.9,701.1C806.6,699.3 804.2,697.3 801.9,695.3C799.7,693.3 797.4,691.3 795.2,689.2C792.9,687.1 790.7,684.9 788.6,682.8C786.4,680.6 784.3,678.4 782.1,676.1C780,673.9 777.9,671.6 775.9,669.3C773.8,667 771.8,664.7 769.8,662.3C767.7,659.9 765.7,657.6 763.8,655.2C761.8,652.8 759.8,650.3 757.9,647.9C755.9,645.5 754,643.1 752.1,640.6C750.2,638.2 748.3,635.7 746.4,633.3C744.6,630.8 742.7,628.4 740.8,625.9C739,623.5 737.1,621 735.3,618.6C733.5,616.1 731.7,613.7 729.8,611.3C728,608.9 726.2,606.5 724.4,604.1C722.6,601.7 719.9,598.2 719,597"/>
<path d="M896.6,785.3C895,785.2 890.1,784.9 887,784.5C883.8,784.1 880.7,783.7 877.7,783.1C874.6,782.5 871.6,781.8 868.7,781C865.8,780.2 862.9,779.3 860,778.4C857.2,777.4 854.4,776.3 851.7,775.1C848.9,774 846.3,772.7 843.6,771.4C841,770.1 838.4,768.7 835.8,767.2C833.3,765.7 830.8,764.1 828.3,762.5C825.9,760.9 823.4,759.1 821.1,757.4C818.7,755.6 816.4,753.7 814.1,751.8C811.8,749.9 809.6,747.9 807.4,745.9C805.1,743.9 803,741.8 800.9,739.7C798.7,737.5 796.6,735.4 794.6,733.1C792.5,730.9 790.5,728.6 788.5,726.3C786.6,724 784.6,721.6 782.7,719.2C780.8,716.8 778.9,714.4 777.1,711.9C775.2,709.4 773.4,706.9 771.6,704.4C769.8,701.9 768.1,699.3 766.4,696.8C764.7,694.2 763,691.6 761.3,689C759.6,686.4 758,683.8 756.4,681.1C754.8,678.5 753.2,675.8 751.6,673.2C750.1,670.5 748.5,667.9 747,665.2C745.5,662.5 744,659.8 742.5,657.1C741.1,654.4 739.6,651.7 738.2,649C736.8,646.3 735.4,643.6 734,640.9C732.6,638.2 731.2,635.5 729.8,632.8C728.5,630.1 727.2,627.3 725.8,624.6C724.5,621.9 723.2,619.2 721.9,616.5C720.6,613.8 719.3,611.2 718,608.5C716.8,605.8 715.1,602.2 714.2,600.5C713.4,598.7 713.2,598.2 713,597.8"/>
</g>
<g fill="#191970" stroke="#191970" stroke-width="1" shape-rendering="crispEdges">
<polygon points="76.5,464 72.3,450.7 82.3,451.3"/>
<polygon points="77.5,464 73.5,450.6 83.5,451.4"/>
<polygon points="78,463.9 74.5,450.4 84.5,451.6"/>
<polygon points="78.5,463.8 75.6,450.2 85.4,451.8"/>
<polygon points="79.6,463.7 77.6,449.9 87.4,452.1"/>
<polygon points="80.7,463.4 79.7,449.5 89.3,452.5"/>
<polygon points="84.1,462.4 86,448.6 94.8,453.4"/>
<polygon points="87.2,461.6 94,449.5 100.4,457.1"/>
<polygon points="104.8,464.3 114.9,454.7 118.7,463.9"/>
<polygon points="147.9,468.3 160.5,462.3 161.3,472.3"/>
<polygon points="147.6,485 160.6,480 160.6,490"/>
<polygon points="108.8,489.7 122.7,490.4 118.7,499.6"/>
<polygon points="89,489.9 101.7,495.6 94.7,502.6"/>
<polygon points="82.6,491.4 94.1,499.3 85.9,504.9"/>
<polygon points="80.6,491.5 89.6,502.1 80.2,505.5"/>
<polygon points="80,489.3 87.4,501 77.6,503"/>
<polygon points="78.9,489.2 85.9,501.2 76.1,502.8"/>
<polygon points="77.5,489.3 84.9,501 75.1,503"/>
<polygon points="76.9,489.2 83.9,501.2 74.1,502.8"/>
<polygon points="74.9,489.2 81.9,501.2 72.1,502.8"/>
<polygon points="349,935.5 362,930.5 362,940.5"/>
<polygon points="330.1,503.4 343.9,501.6 341.5,511.4"/>
<polygon points="346.5,394.3 357.5,385.7 360.3,395.3"/>
<polygon points="345.9,396.7 358.5,390.6 359.3,400.6"/>
<polygon points="345.1,415.6 358.9,413.8 356.5,423.6"/>
<polygon points="553.8,368.5 565.7,361.2 567.5,371"/>
<polygon points="563.6,380.5 576.6,375.5 576.6,385.5"/>
<polygon points="782.7,372 794.9,365.2 796.3,375.2"/>
<polygon points="559.9,537.3 573.9,536.9 570.5,546.3"/>
<polygon points="711.4,560 713.1,546.1 721.9,550.9"/>
<polygon points="717,560.1 722.4,547.2 729.6,554.2"/>
<polygon points="732.8,560.2 742.5,550.2 746.7,559.2"/>
<polygon points="753.3,567.3 765.6,560.9 766.8,570.9"/>
<polygon points="753,577.2 766.6,574 765.2,584"/>
<polygon points="735.7,585.5 749.6,586.5 745.4,595.5"/>
<polygon points="717.9,585.7 730.5,591.6 723.3,598.6"/>
<polygon points="711.5,586.4 723.1,594.1 714.9,599.9"/>
<polygon points="709.6,585.3 717.8,596.5 708.2,599.1"/>
</g>
<g stroke="#000" stroke-width="1">
<rect x="5.5" y="464.5" width="142" height="25" fill="#bfbfbf"/>
<rect x="228.5" y="5.5" width="123" height="26" fill="#fff"/>
<rect x="215.5" y="53.5" width="149" height="26" fill="#fff"/>
<rect x="205.5" y="101.5" width="168" height="26" fill="#fff"/>
<rect x="196.5" y="149.5" width="188" height="26" fill="#fff"/>
<rect x="232.5" y="197.5" width="116" height="26" fill="#fff"/>
<rect x="457.5" y="272.5" width="91" height="25" fill="#fff"/>
<rect x="209.5" y="296.5" width="160" height="25" fill="#fff"/>
<rect x="219.5" y="344.5" width="142" height="25" fill="#fff"/>
<rect x="233.5" y="392.5" width="112" height="25" fill="#fff"/>
<rect x="225.5" y="440.5" width="130" height="25" fill="#fff"/>
<rect x="251.5" y="488.5" width="77" height="25" fill="#fff"/>
<rect x="249.5" y="536.5" width="80" height="25" fill="#fff"/>
<rect x="197.5" y="584.5" width="184" height="25" fill="#fff"/>
<rect x="224.5" y="632.5" width="131" height="25" fill="#fff"/>
<rect x="195.5" y="680.5" width="189" height="25" fill="#fff"/>
<rect x="220.5" y="728.5" width="140" height="25" fill="#fff"/>
<rect x="241.5" y="776.5" width="98" height="25" fill="#fff"/>
<rect x="241.5" y="824.5" width="98" height="25" fill="#fff"/>
<rect x="232.5" y="923.5" width="116" height="25" fill="#fff"/>
<rect x="433.5" y="923.5" width="140" height="25" fill="#fff"/>
<rect x="443.5" y="368.5" width="120" height="25" fill="#fff"/>
<rect x="440.5" y="512.5" width="127" height="25" fill="#fff"/>
<rect x="455.5" y="717.5" width="96" height="26" fill="#fff"/>
<rect x="621.5" y="320.5" width="163" height="25" fill="#fff"/>
<rect x="625.5" y="368.5" width="156" height="25" fill="#fff"/>
<rect x="833.5" y="344.5" width="215" height="25" fill="#fff"/>
<rect x="655.5" y="560.5" width="97" height="25" fill="#fff"/>
<rect x="899.5" y="392.5" width="84" height="25" fill="#fff"/>
<rect x="900.5" y="440.5" width="81" height="25" fill="#fff"/>
<rect x="900.5" y="488.5" width="81" height="25" fill="#fff"/>
<rect x="903.5" y="536.5" width="74" height="25" fill="#fff"/>
<rect x="892.5" y="584.5" width="96" height="25" fill="#fff"/>
<rect x="892.5" y="632.5" width="96" height="25" fill="#fff"/>
<rect x="892.5" y="680.5" width="96" height="25" fill="#fff"/>
<rect x="892.5" y="728.5" width="96" height="25" fill="#fff"/>
<rect x="896.5" y="776.5" width="88" height="25" fill="#fff"/>
</g>
<g text-anchor="middle" style="filter:grayscale(1)">
<text x="76.5" y="482.0">localStat::TimerStart</text>
<text x="290.0" y="23.5">LBgroup::balance</text>
<text x="290.0" y="71.5">PVT::beginCheckpoint</text>
<text x="289.5" y="119.5">PVT::beginLoadbalancing</text>
<text x="290.5" y="167.5">LBgroup::calculateLocalLoad</text>
<text x="290.5" y="215.5">PVT::callAtSync</text>
<text x="503.0" y="290.0">sim::Cancel</text>
<text x="289.5" y="314.0">sim::CheckpointCommit</text>
<text x="290.5" y="362.0">sim::CheckpointStep</text>
<text x="289.5" y="410.0">PVT::objUpdate</text>
<text x="290.5" y="458.0">GVT::computeGVT</text>
<text x="290.0" y="506.0">sim::Step</text>
<text x="289.5" y="554.0">PVT::PVT</text>
<text x="289.5" y="602.0">LBstrategy::recvLoadReport</text>
<text x="290.0" y="650.0">PVT::reportReduce</text>
<text x="290.0" y="698.0">PVT::resumeAfterCheckpoint</text>
<text x="290.5" y="746.0">PVT::resumeAfterLB</text>
<text x="290.5" y="794.0">GVT::runGVT</text>
<text x="290.5" y="842.0">PVT::setGVT</text>
<text x="290.5" y="941.0">PVT::startPhase</text>
<text x="503.5" y="941.0">PVT::startPhaseExp</text>
<text x="503.5" y="386.0">sim::registerSent</text>
<text x="504.0" y="530.0">opt::CancelSpawn</text>
<text x="503.5" y="735.5">sim::Commit</text>
<text x="703.0" y="338.0">chpt::registerTimestamp</text>
<text x="703.5" y="386.0">rep::registerTimestamp</text>
<text x="941.0" y="362.0">sim::SeqResumeAfterCheckpoint</text>
<text x="704.0" y="578.0">opt::Rollback</text>
<text x="941.5" y="410.0">spec::Step</text>
<text x="941.0" y="458.0">opt3::Step</text>
<text x="941.0" y="506.0">opt2::Step</text>
<text x="940.5" y="554.0">opt::Step</text>
<text x="940.5" y="602.0">adapt5::Step</text>
<text x="940.5" y="650.0">adapt4::Step</text>
<text x="940.5" y="698.0">adapt3::Step</text>
<text x="940.5" y="746.0">adapt2::Step</text>
<text x="940.5" y="794.0">adapt::Step</text>
</g>
</svg>
</body></html>
